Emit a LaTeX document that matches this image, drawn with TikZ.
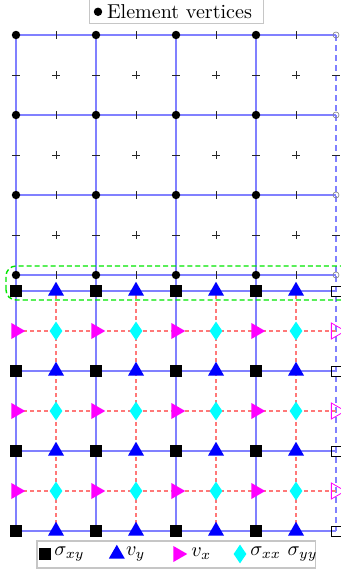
\documentclass[tikz,border=0pt]{standalone}
\usepackage{amsmath}
\usetikzlibrary{shapes.geometric,positioning,calc}
\definecolor{gridblue}{RGB}{128,128,255}
\definecolor{dashred}{RGB}{255,120,120}
\definecolor{boxgreen}{RGB}{0,230,0}
\definecolor{mkcyan}{RGB}{0,255,255}
\definecolor{mkmagenta}{RGB}{255,0,255}
\definecolor{mkblue}{RGB}{0,0,255}
\tikzset{
    gridline/.style={line width=0.55pt, gridblue},
    ghostline/.style={line width=0.55pt, gridblue, dash pattern=on 3pt off 2pt},
    redline/.style={line width=0.55pt, dashred, dash pattern=on 2pt off 1.5pt},
    tickmark/.style={line width=0.45pt, black!85},
    % markers
    vtx/.style={circle, fill=black, inner sep=0pt, minimum size=4.2pt},
    ghostvtx/.style={circle, draw=gray, line width=0.3pt, inner sep=0pt, minimum size=3pt},
    sxy/.style={rectangle, fill=black, inner sep=0pt, minimum size=5.5pt},
    ghostsxy/.style={rectangle, draw=black, line width=0.4pt, inner sep=0pt, minimum size=5pt},
    vy/.style={regular polygon, regular polygon sides=3, fill=mkblue, inner sep=0pt, minimum size=9.2pt},
    vx/.style={regular polygon, regular polygon sides=3, shape border rotate=-90, fill=mkmagenta, inner sep=0pt, minimum size=9.2pt},
    ghostvx/.style={vx, fill=none, draw=mkmagenta, line width=0.4pt},
    sxx/.style={diamond, fill=mkcyan, inner sep=0pt, minimum width=6.5pt, minimum height=9.5pt},
    legendframe/.style={draw=gray!45, line width=0.5pt}
}

\begin{document}
\begin{tikzpicture}[x=1.4cm,y=1.4cm]
    \useasboundingbox (-0.2,-0.525) rectangle (4.05,6.6375);

    % points of the two grids
    \foreach \i in {0,...,4}
      \foreach \j in {0,...,3} {
        \coordinate (v-\i-\j) at (\i,3.2+\j);
        \coordinate (s-\i-\j) at (\i,\j);
      }
    \foreach \i in {0,...,3}
      \foreach \j in {0,...,3}
        \coordinate (t-\i-\j) at (\i+0.5,\j);
    \foreach \i in {0,...,4}
      \foreach \j in {0,...,2}
        \coordinate (x-\i-\j) at (\i,\j+0.5);
    \foreach \i in {0,...,3}
      \foreach \j in {0,...,2}
        \coordinate (d-\i-\j) at (\i+0.5,\j+0.5);

    % blue grid lines
    \foreach \j in {0,...,3} {
      \draw[gridline] (v-0-\j) -- (v-4-\j);
      \draw[gridline] (s-0-\j) -- (s-4-\j);
    }
    \foreach \i in {0,...,3}
      \draw[gridline] (v-\i-3) -- (s-\i-0);
    \draw[ghostline] (v-4-3) -- (s-4-0);

    % red staggered lines
    \foreach \j in {0,...,2}
      \draw[redline] (x-0-\j) -- (x-4-\j);
    \foreach \i in {0,...,3}
      \draw[redline] (t-\i-0) -- (t-\i-3);

    % ticks and plus signs
    \foreach \i in {0,...,3}
      \foreach \j in {0,...,3}
        \draw[tickmark] (\i+0.5,3.15+\j) -- (\i+0.5,3.25+\j);
    \foreach \i in {0,...,4}
      \foreach \j in {0,...,2}
        \draw[tickmark] (\i-0.05,3.7+\j) -- (\i+0.05,3.7+\j);
    \foreach \i in {0,...,3}
      \foreach \j in {0,...,2}
        \draw[tickmark] (\i+0.45,3.7+\j) -- (\i+0.55,3.7+\j)
                        (\i+0.5,3.65+\j) -- (\i+0.5,3.75+\j);

    % green dashed frame
    \draw[boxgreen, line width=0.7pt, dash pattern=on 2.5pt off 1.5pt, rounded corners=5pt]
      (-0.125,2.8875) rectangle (4.2,3.3125);

    % markers
    \foreach \j in {0,...,3} {
      \foreach \i in {0,...,3} {
        \node[vtx] (V-\i-\j) at (v-\i-\j) {};
        \node[sxy] (S-\i-\j) at (s-\i-\j) {};
        \node[vy] (T-\i-\j) at (t-\i-\j) {};
      }
      \node[ghostvtx] (V-4-\j) at (v-4-\j) {};
      \node[ghostsxy] (S-4-\j) at (s-4-\j) {};
    }
    \foreach \j in {0,...,2} {
      \foreach \i in {0,...,3} {
        \node[vx] (X-\i-\j) at (x-\i-\j) {};
        \node[sxx] (D-\i-\j) at (d-\i-\j) {};
      }
      \node[ghostvx] (X-4-\j) at (x-4-\j) {};
    }

    % legend on top
    \draw[legendframe] (0.9125,6.3375) rectangle (3.0875,6.7);
    \node[vtx] (keyvtx) at (1.025,6.49) {};
    \node[right=0.5pt of keyvtx, inner sep=1.5pt] (keyvtxlbl) {Element vertices};

    % legend at bottom
    \draw[legendframe] (0.2625,-0.125) rectangle (3.7375,-0.4625);
    \node[sxy] (keysxy) at (0.3625,-0.2875) {};
    \node[right=0pt of keysxy, inner sep=1.5pt] (keysxylbl) {$\sigma_{xy}$};
    \node[vy] (keyvy) at (1.26,-0.2875) {};
    \node[right=0pt of keyvy, inner sep=1.5pt] (keyvylbl) {$v_y$};
    \node[vx] (keyvx) at (2.025,-0.2875) {};
    \node[right=0pt of keyvx, inner sep=1.5pt] (keyvxlbl) {$v_x$};
    \node[sxx] (keysxx) at (2.8,-0.2875) {};
    \node[right=0pt of keysxx, inner sep=1.5pt] (keysxxlbl) {$\sigma_{xx}$ $\sigma_{yy}$};
\end{tikzpicture}
\end{document}
